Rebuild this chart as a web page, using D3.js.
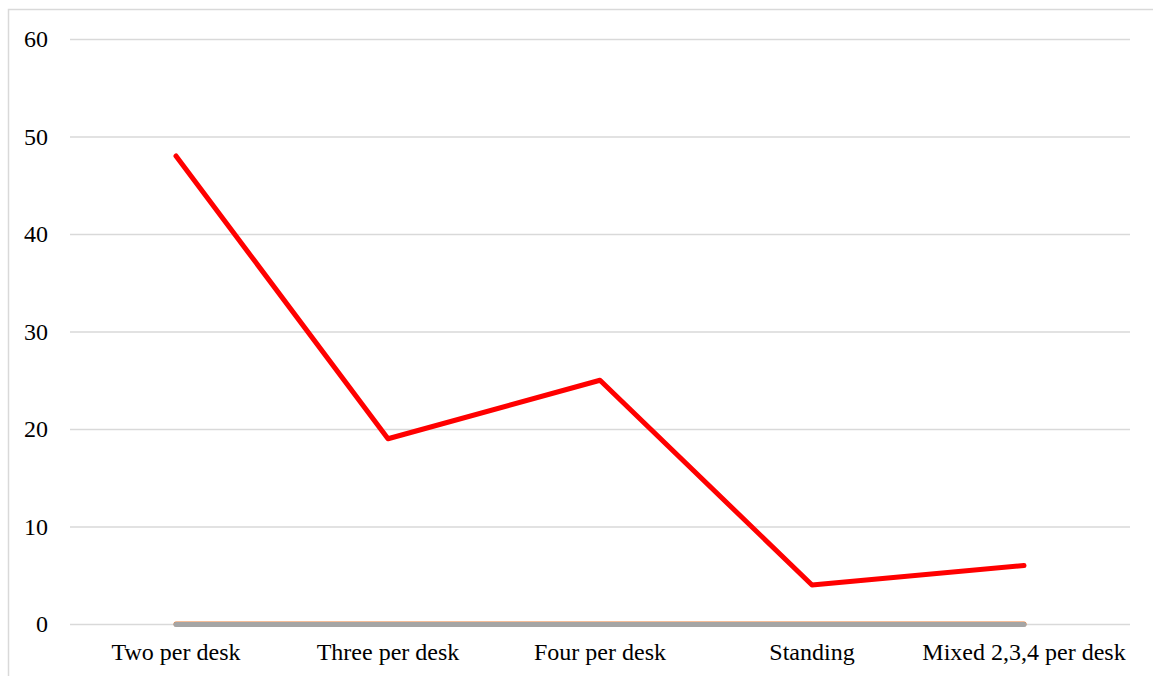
<!DOCTYPE html>
<html>
<head>
<meta charset="utf-8">
<script src="https://cdn.jsdelivr.net/npm/d3@7"></script>
<style>
  html, body { margin: 0; padding: 0; background: #fff; }
  svg { display: block; }
</style>
</head>
<body>
<svg id="chart" width="1153" height="676"></svg>
<script>
// Seating arrangement categories and counts
const categories = ["Two per desk", "Three per desk", "Four per desk", "Standing", "Mixed 2,3,4 per desk"];
const mainSeries = [48, 19, 25, 4, 6];
const baseSeriesA = [0, 0, 0, 0, 0];
const baseSeriesB = [0, 0, 0, 0, 0];
const yTicks = [0, 10, 20, 30, 40, 50, 60];

const svg = d3.select("#chart");
const W = 1153, H = 676;
const margin = { left: 70, right: 23, top: 39, bottom: 52 };

// outer chart frame
svg.append("rect")
  .attr("x", 8.5).attr("y", 9.5)
  .attr("width", W + 10).attr("height", H + 10)
  .attr("fill", "none").attr("stroke", "#d9d9d9").attr("stroke-width", 1.5);

const x = d3.scaleBand().domain(categories).range([margin.left, W - margin.right]);
const y = d3.scaleLinear().domain([0, 60]).range([H - margin.bottom, margin.top]);

const font = "'Liberation Serif', 'Times New Roman', serif";

// horizontal gridlines
const yAxis = d3.axisLeft(y).tickValues(yTicks).tickSize(-(W - margin.right - margin.left)).tickPadding(22);
const gy = svg.append("g").attr("transform", `translate(${margin.left},0)`).call(yAxis);
gy.select(".domain").remove();
gy.selectAll(".tick line").attr("stroke", "#d9d9d9").attr("stroke-width", 1.5);
gy.selectAll(".tick text").attr("font-family", font).attr("font-size", 24).attr("fill", "#000");

// category labels
const xAxis = d3.axisBottom(x).tickSize(0).tickPadding(19);
const gx = svg.append("g").attr("transform", `translate(0,${y(0)})`).call(xAxis);
gx.select(".domain").remove();
gx.selectAll(".tick text").attr("font-family", font).attr("font-size", 24).attr("fill", "#000");

const cx = d => x(d) + x.bandwidth() / 2;
const line = d3.line().x((d, i) => cx(categories[i])).y(d => y(d));

svg.append("path").datum(baseSeriesA).attr("d", line)
  .attr("fill", "none").attr("stroke", "#ed7d31").attr("stroke-width", 5).attr("stroke-linecap", "round");
svg.append("path").datum(baseSeriesB).attr("d", line)
  .attr("fill", "none").attr("stroke", "#a5a5a5").attr("stroke-width", 5).attr("stroke-linecap", "round")
  .attr("transform", "translate(0,0.5)");
svg.append("path").datum(mainSeries).attr("d", line)
  .attr("fill", "none").attr("stroke", "#ff0000").attr("stroke-width", 5)
  .attr("stroke-linecap", "round").attr("stroke-linejoin", "round");
</script>
</body>
</html>
